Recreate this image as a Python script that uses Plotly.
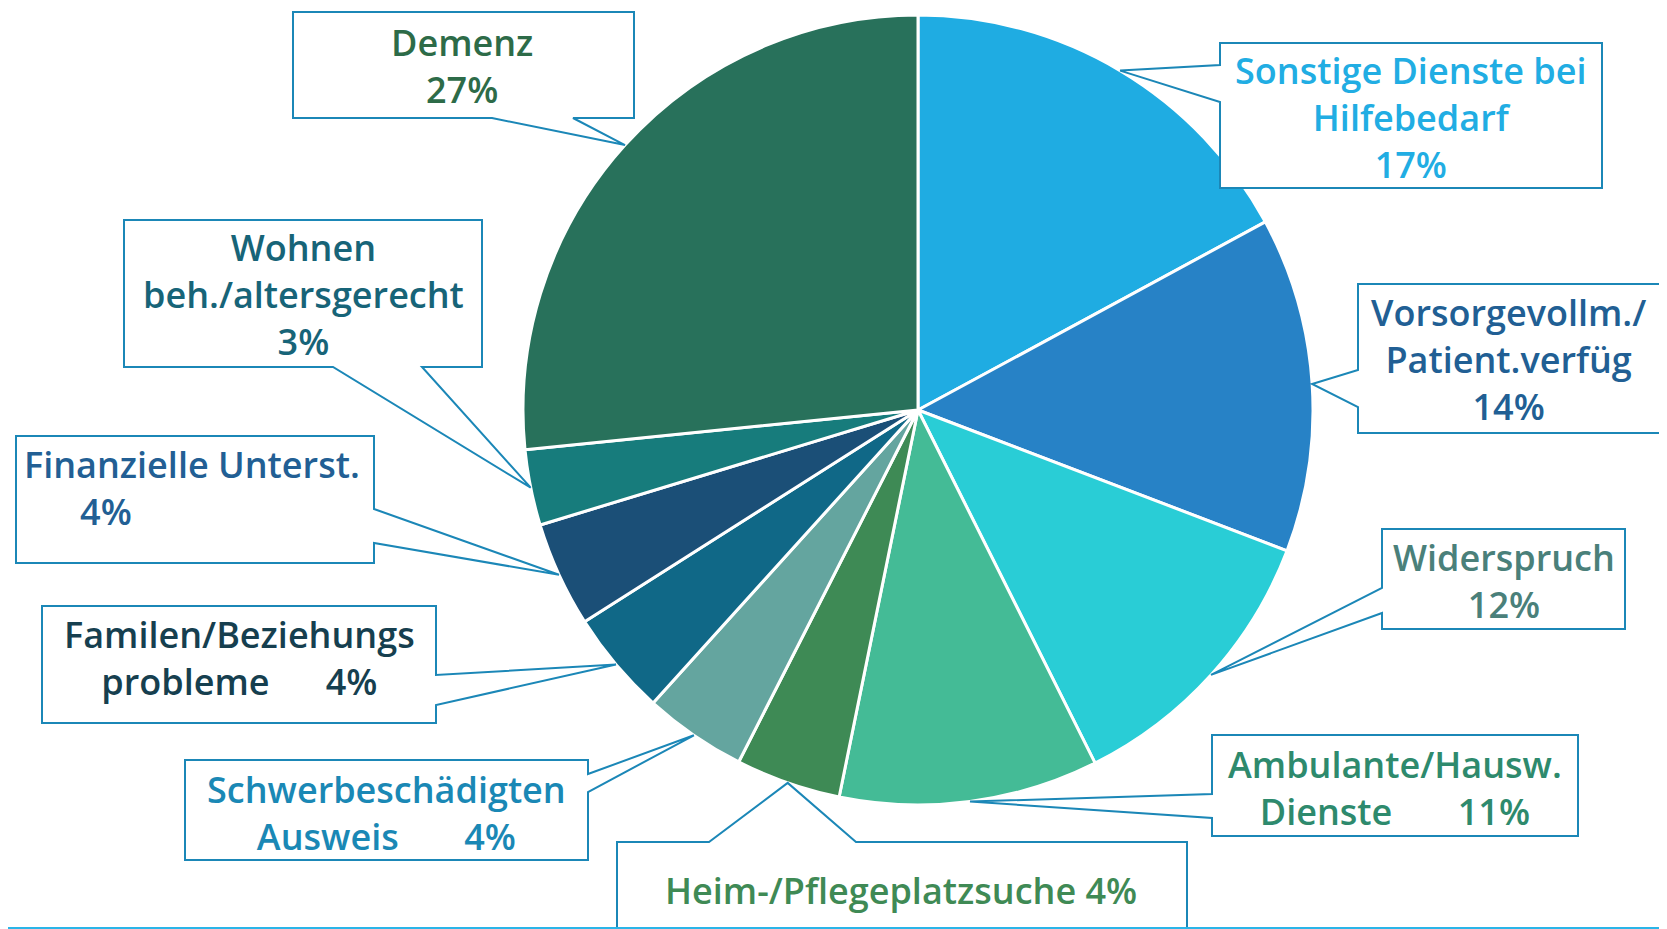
import math
import plotly.graph_objects as go

# ---------------- data ----------------
categories = [
    "Sonstige Dienste bei Hilfebedarf",
    "Vorsorgevollm./Patient.verfüg",
    "Widerspruch",
    "Ambulante/Hausw. Dienste",
    "Heim-/Pflegeplatzsuche",
    "Schwerbeschädigten Ausweis",
    "Familen/Beziehungsprobleme",
    "Finanzielle Unterst.",
    "Wohnen beh./altersgerecht",
    "Demenz",
]
values = [17.1, 13.7, 11.8, 10.6, 4.3, 4.2, 4.3, 4.3, 3.1, 26.6]

NB = "\u00a0"
label_templates = [
    "Sonstige Dienste bei<br>Hilfebedarf<br>{p}%",
    "Vorsorgevollm./<br>Patient.verfüg<br>{p}%",
    "Widerspruch<br>{p}%",
    "Ambulante/Hausw.<br>Dienste" + NB * 7 + "{p}%",
    "Heim-/Pflegeplatzsuche {p}%",
    "Schwerbeschädigten<br>Ausweis" + NB * 7 + "{p}%",
    "Familen/Beziehungs<br>probleme" + NB * 6 + "{p}%",
    "Finanzielle Unterst.<br>" + NB * 6 + "{p}%",
    "Wohnen<br>beh./altersgerecht<br>{p}%",
    "Demenz<br>{p}%",
]

# ---------------- styles / layout ----------------
OFF = 8                      # page body margin
W, H = 1667, 929             # reference canvas
FW, FH = W - OFF, H - OFF    # figure size
slice_colors = ["#1FACE2", "#2782C6", "#29CDD6", "#44BB96", "#3E8A55",
                "#64A59F", "#106887", "#1B4F77", "#177C7C", "#28715B"]
text_colors = ["#21ADE3", "#215F94", "#4A807A", "#2E8A6D", "#3F8A55",
               "#1A88B5", "#163F4F", "#225F94", "#176478", "#2D6B48"]
BORDER = "#1B87B7"
FONT = "Open Sans"
FSIZE = 36

CX, CY, R = 918, 410, 395  # pie geometry in reference pixels

# box: (x0, y0, x1, y1), pointer side, pointer base (a, b), text (x, y), align
boxes = [
    ((1220, 43, 1602, 188), "left", (65, 102), (1411, 117), "center"),
    ((1358, 284, 1680, 433), "left", (370, 407), (1508, 359), "center"),
    ((1382, 529, 1625, 629), "left", (588, 613), (1504, 581), "center"),
    ((1212, 735, 1578, 836), "left", (794, 818), (1395, 788), "center"),
    ((617, 842, 1187, 945), "top", (709, 856), (901, 890), "center"),
    ((185, 760, 588, 860), "right", (774, 792), (386, 813), "center"),
    ((42, 606, 436, 723), "right", (675, 705), (239, 658), "center"),
    ((16, 436, 374, 563), "right", (509, 543), (22, 488), "left"),
    ((124, 220, 482, 367), "bottom", (333, 422), (303, 294), "center"),
    ((293, 12, 634, 118), "bottom", (492, 573), (462, 66), "center"),
]


def box_path(box, side, base, tip):
    x0, y0, x1, y1 = box
    a, b = base
    tx, ty = tip
    if side == "left":
        pts = [(x0, y0), (x1, y0), (x1, y1), (x0, y1), (x0, b), (tx, ty), (x0, a)]
    elif side == "right":
        pts = [(x0, y0), (x1, y0), (x1, a), (tx, ty), (x1, b), (x1, y1), (x0, y1)]
    elif side == "top":
        pts = [(x0, y0), (a, y0), (tx, ty), (b, y0), (x1, y0), (x1, y1), (x0, y1)]
    else:  # bottom
        pts = [(x0, y0), (x1, y0), (x1, y1), (b, y1), (tx, ty), (a, y1), (x0, y1)]
    return "M " + " L ".join(f"{x:.1f},{y:.1f}" for x, y in pts) + " Z"


fig = go.Figure()
pcx, pcy = CX - OFF, CY - OFF
fig.add_trace(go.Pie(
    labels=categories, values=values, sort=False, direction="clockwise",
    rotation=0, textinfo="none", hoverinfo="label+percent",
    marker=dict(colors=slice_colors, line=dict(color="white", width=3)),
    domain=dict(x=[(pcx - R) / FW, (pcx + R) / FW],
                y=[(FH - pcy - R) / FH, (FH - pcy + R) / FH]),
    showlegend=False,
))

total = sum(values)
shapes = []
annotations = []
cum = 0.0
for i, v in enumerate(values):
    mid = (cum + v / 2) / total * 2 * math.pi
    cum += v
    tip = (CX + R * math.sin(mid), CY - R * math.cos(mid))
    box, side, base, tpos, align = boxes[i]
    shapes.append(dict(type="path", path=box_path(box, side, base, tip),
                       xref="x", yref="y", layer="above",
                       fillcolor="white", line=dict(color=BORDER, width=2)))
    pct = round(v / total * 100)
    annotations.append(dict(
        x=tpos[0], y=tpos[1], xref="x", yref="y",
        text=label_templates[i].format(p=pct), showarrow=False,
        xanchor="left" if align == "left" else "center", yanchor="middle",
        align=align,
        font=dict(family=FONT, size=FSIZE, color=text_colors[i], weight=600),
    ))

# bottom rule line
shapes.append(dict(type="line", x0=0, x1=W, y0=928, y1=928, xref="x", yref="y",
                   layer="above", line=dict(color="#2AB5E8", width=2)))

fig.update_layout(
    width=FW, height=FH, margin=dict(l=0, r=0, t=0, b=0),
    paper_bgcolor="white", plot_bgcolor="rgba(0,0,0,0)",
    xaxis=dict(range=[OFF, W], visible=False, fixedrange=True, domain=[0, 1]),
    yaxis=dict(range=[H, OFF], visible=False, fixedrange=True, domain=[0, 1]),
    shapes=shapes, annotations=annotations, showlegend=False,
)

fig.write_html("out.html")
